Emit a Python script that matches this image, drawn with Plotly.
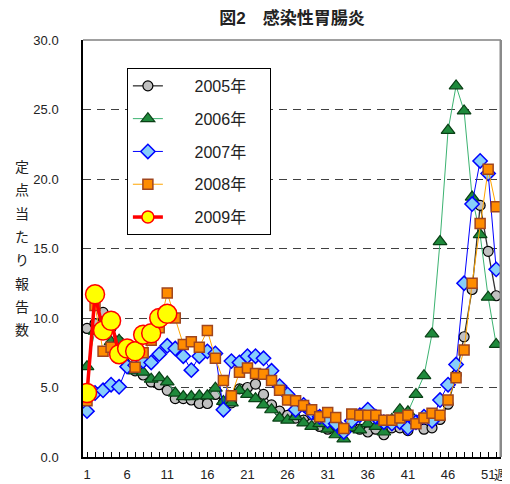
import plotly.graph_objects as go

weeks = list(range(1, 53))

y2005 = [9.25, 9.6, 10.4, 9.3, 8.3, 6.5, 6.2, 5.9, 5.4, 5.2, 4.8, 4.2, 4.2, 4.1, 3.85, 3.85, 4.5, 3.9, 3.9, 4.9,
         5.0, 5.25, 4.5, 3.75, 3.3, 3.0, 2.8, 2.65, 2.4, 2.2, 2.0, 2.3, 2.0, 2.2, 2.0, 1.8, 2.0, 1.6, 2.1, 2.1,
         1.9, 2.4, 2.0, 2.1, 2.7, 3.8, 5.9, 8.65, 12.05, 18.1, 14.8, 11.6]
y2006 = [6.5, 9.05, 9.1, 8.3, 8.4, 6.7, 6.2, 6.1, 5.6, 5.7, 5.4, 4.6, 4.35, 4.35, 4.4, 4.4, 4.95, 4.0, 3.9, 4.8,
         4.5, 4.2, 3.75, 3.4, 2.8, 2.65, 2.9, 2.45, 2.2, 2.4, 2.0, 1.6, 1.3, 2.1, 1.95, 2.4, 2.2, 1.8, 2.7, 3.4,
         3.25, 4.5, 5.85, 8.85, 15.5, 23.5, 26.7, 24.9, 18.7, 16.0, 11.5, 8.1]
y2007 = [3.3, 4.6, 4.8, 5.2, 5.05, 6.5, 6.6, 6.9, 6.8, 7.4, 8.0, 7.8, 7.25, 6.25, 7.25, 7.6, 7.45, 3.4, 6.9, 6.8,
         7.25, 7.25, 7.1, 6.2, 5.1, 4.5, 3.4, 3.75, 3.2, 2.9, 2.6, 2.4, 1.8, 2.6, 3.0, 3.4, 2.9, 2.5, 2.4, 2.5,
         2.1, 2.5, 2.9, 2.6, 4.1, 5.2, 6.65, 12.5, 18.2, 21.3, 20.4, 13.5]
y2008 = [4.05, 10.9, 7.6, 7.9, 7.2, 7.6, 6.45, 7.5, 8.4, 9.3, 11.8, 10.0, 8.1, 8.3, 7.9, 9.1, 7.1, 5.5, 4.4, 6.1,
         6.4, 6.0, 5.95, 5.5, 4.8, 4.1, 4.05, 3.7, 3.4, 2.9, 3.2, 2.85, 2.05, 3.1, 3.0, 3.0, 3.0, 2.65, 2.65, 2.8,
         3.0, 2.4, 2.8, 3.15, 3.0, 4.1, 5.7, 7.7, 12.5, 16.8, 20.7, 18.0]
y2009 = [4.6, 11.7, 9.1, 9.8, 7.4, 7.8, 7.6, 8.8, 8.9, 10.0, 10.3]

names = ["2005年", "2006年", "2007年", "2008年", "2009年"]
tick_weeks = [1, 6, 11, 16, 21, 26, 31, 36, 41, 46, 51]
y_ticks = [0, 5, 10, 15, 20, 25, 30]
title_text = "図2　感染性胃腸炎"
ylabel_text = "定点当たり報告数"
week_unit = "週"

FONT = "Liberation Sans, Arial, Noto Sans CJK JP, sans-serif"

fig = go.Figure()

styles = [
    dict(line=dict(color="#333333", width=1.3),
         marker=dict(symbol="circle", size=10, color="#c0c0c0", line=dict(color="#000000", width=1.2))),
    dict(line=dict(color="#3cb371", width=1),
         marker=dict(symbol="triangle-up", size=12, color="#1f8a3c", line=dict(color="#0a4016", width=1.2))),
    dict(line=dict(color="#0000ff", width=1),
         marker=dict(symbol="diamond", size=11, color="#87cefa", line=dict(color="#0000ff", width=1.5))),
    dict(line=dict(color="#ffa500", width=1),
         marker=dict(symbol="square", size=10, color="#ff8c00", line=dict(color="#a0461e", width=1.5))),
    dict(line=dict(color="#ff0000", width=3.5),
         marker=dict(symbol="circle", size=19, color="#ffff00", line=dict(color="#ff0000", width=1.5))),
]
legend_sizes = [10, 12, 11, 10, 12]
series = [y2005, y2006, y2007, y2008, y2009]

for nm, ys, st in zip(names, series, styles):
    fig.add_trace(go.Scatter(
        x=weeks[:len(ys)], y=ys, name=nm, mode="lines+markers",
        line=st["line"], marker=st["marker"], showlegend=False,
    ))

# legend-only entries (smaller symbols as in the reference legend)
NB = "\u00a0"
for nm, st, sz in zip(names, styles, legend_sizes):
    mk = dict(st["marker"])
    mk["size"] = sz
    fig.add_trace(go.Scatter(
        x=[None], y=[None], name=NB * 6 + nm + NB * 4, mode="lines+markers",
        line=st["line"], marker=mk, legendgroup=nm, showlegend=True,
    ))

ticktext = [str(w) if w in tick_weeks else "" for w in weeks]

fig.update_layout(
    width=502, height=476,
    margin=dict(l=75, r=9, t=32, b=27),
    paper_bgcolor="white", plot_bgcolor="white",
    font=dict(family=FONT, size=13, color="#222222"),
    title=dict(text="<b>" + title_text + "</b>", x=0.5, xref="paper", y=0.979, yanchor="middle",
               font=dict(size=17, color="#222222")),
    showlegend=True,
    legend=dict(x=0.105, y=0.933, xanchor="left", yanchor="top",
                bgcolor="white", bordercolor="#000000", borderwidth=1,
                font=dict(size=16, color="#222222"), itemsizing="trace",
                tracegroupgap=9, traceorder="grouped"),
    xaxis=dict(range=[0.5, 52.6], tickmode="array", tickvals=weeks, ticktext=ticktext,
               ticks="inside", ticklen=5, tickcolor="#000000", tickwidth=1,
               showline=True, linecolor="#000000", linewidth=1.5, automargin=False,
               showgrid=False, zeroline=False, tickfont=dict(size=13), ticklabelstandoff=5),
    yaxis=dict(range=[0, 30], tickmode="array", tickvals=y_ticks,
               ticktext=[f"{v:.1f}" for v in y_ticks], automargin=False,
               showline=True, linecolor="#000000", linewidth=1.5,
               showgrid=True, gridcolor="#404040", gridwidth=1, griddash="8px,6px",
               zeroline=False, ticks="", ticklabelstandoff=20, tickfont=dict(size=13)),
)

# right and top frame
fig.add_shape(type="line", xref="paper", yref="paper", x0=1, x1=1, y0=0, y1=1,
              line=dict(color="#8a8a8a", width=3), layer="above")
fig.add_shape(type="line", xref="paper", yref="paper", x0=0, x1=1, y0=1, y1=1,
              line=dict(color="#a0a0a0", width=2), layer="below")

fig.add_annotation(text=week_unit, xref="paper", yref="paper", x=0.978, y=-0.041,
                   xanchor="left", yanchor="middle", showarrow=False, font=dict(size=13))

# vertical stacked y-axis title, one character per annotation
chars = list(ylabel_text)
for i, ch in enumerate(chars):
    ypx = 167 + i * 23.3
    fig.add_annotation(text=ch, xref="paper", yref="paper", x=-0.146, y=(457 - ypx) / 417,
                       xanchor="center", yanchor="middle", showarrow=False,
                       font=dict(size=14, color="#222222"))

fig.write_html("out.html")
